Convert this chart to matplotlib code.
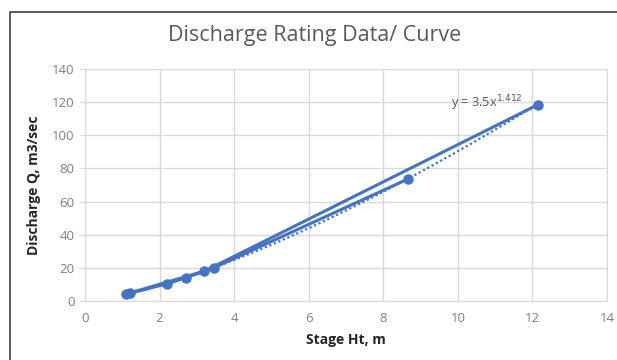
import numpy as np
import matplotlib
matplotlib.use("Agg")
import matplotlib.pyplot as plt
from matplotlib.lines import Line2D

# Data (order as plotted in the source series)
stage = [8.65, 3.45, 2.7, 2.2, 1.2, 1.1, 3.2, 12.15]
discharge = [73.5, 20.0, 14.0, 10.4, 4.6, 4.2, 18.0, 118.5]

# Power trendline parameters (as labelled)
coef_a = 3.5
coef_b = 1.412

x_ticks = [0, 2, 4, 6, 8, 10, 12, 14]
y_ticks = [0, 20, 40, 60, 80, 100, 120, 140]

font = "Open Sans"
blue = "#4472C4"

fig = plt.figure(figsize=(6.17, 3.6), dpi=100)
ax = fig.add_axes([85/617, 1-301/360, (607-85)/617, (301-69)/360])

ax.plot(stage, discharge, color=blue, lw=2.2, marker="o", ms=6.5, zorder=3)

xs = np.linspace(min(stage), max(stage), 200)
ax.plot(xs, coef_a * xs ** coef_b, color=blue, lw=1.6, ls=(0, (1, 1.2)), zorder=2)

ax.set_xlim(0, 14)
ax.set_ylim(0, 140)
ax.set_xticks(x_ticks)
ax.set_yticks(y_ticks)
ax.grid(True, color="#D9D9D9", lw=1.0)
ax.set_axisbelow(True)
for s in ax.spines.values():
    s.set_color("#D9D9D9")
ax.tick_params(axis="both", colors="#D9D9D9", labelcolor="#808080", labelsize=9.5, length=4)
ax.tick_params(axis="x", length=0, pad=8)
for lab in ax.get_xticklabels() + ax.get_yticklabels():
    lab.set_family(font)

ax.set_xlabel("Stage Ht, m", fontsize=10, fontweight="bold", color="#262626", family=font, labelpad=6)
ax.set_ylabel("Discharge Q, m3/sec", fontsize=10, fontweight="bold", color="#262626", family=font, labelpad=8)

fig.text(315/617, 1-35/360, "Discharge Rating Data/ Curve", ha="center", va="center",
         fontsize=15.5, color="#595959", family=font)

ax.text(11.75, 119.5, r"y = 3.5x$^{1.412}$", ha="right", va="center", fontsize=9.2,
        color="#595959", family=font)

# outer chart frame (left and top edges visible)
fig.add_artist(Line2D([10/617, 10/617, 1.0], [0.0, 1-12/360, 1-12/360],
                      transform=fig.transFigure, color="#404040", lw=1.2))

fig.savefig("out.png", dpi=100)
